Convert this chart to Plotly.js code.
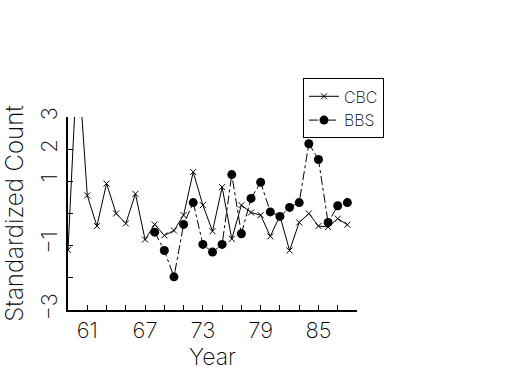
<!DOCTYPE html>
<html>
<head>
<meta charset="utf-8">
<script src="https://cdn.plot.ly/plotly-3.0.1.min.js"></script>
<style>html,body{margin:0;padding:0;background:#fff}#chart{width:525px;height:375px}</style>
</head>
<body>
<div id="chart"></div>
<script>
const cbcYears = [59,60,61,62,63,64,65,66,67,68,69,70,71,72,73,74,75,76,77,78,79,80,81,82,83,84,85,86,87,88];
const cbcValues = [-1.13,5.0,0.56,-0.39,0.93,0.0,-0.31,0.61,-0.81,-0.34,-0.68,-0.53,-0.05,1.29,0.26,-0.55,0.82,-0.79,0.26,0.03,-0.05,-0.71,-0.07,-1.15,-0.28,0.0,-0.39,-0.42,-0.16,-0.35];
const bbsYears = [68,69,70,71,72,73,74,75,76,77,78,79,80,81,82,83,84,85,86,87,88];
const bbsValues = [-0.58,-1.15,-1.97,-0.34,0.34,-0.96,-1.20,-0.96,1.21,-0.63,0.47,0.97,0.05,-0.09,0.19,0.34,2.17,1.68,-0.28,0.24,0.34];
const xTickVals = [59,61,63,65,67,69,71,73,75,77,79,81,83,85,87,89];
const xTickText = ['','61','','','67','','','73','','','79','','','85','',''];
const yTickVals = [-3,-2,-1,0,1,2,3];
const yTickText = ['\u22123','','\u22121','','1','2','3'];

const fontFam = 'Inter, "DejaVu Sans", sans-serif';
const traces = [
  {x: cbcYears, y: cbcValues, name: 'CBC', mode: 'lines+markers', type: 'scatter',
   line: {color: '#000', width: 1}, marker: {symbol: 'x-thin-open', size: 6, color: '#000', line: {color: '#000', width: 1}}},
  {x: bbsYears, y: bbsValues, name: 'BBS', mode: 'lines+markers', type: 'scatter',
   line: {color: '#000', width: 1, dash: 'dashdot'}, marker: {symbol: 'circle', size: 9, color: '#000'}}
];
const layout = {
  width: 525, height: 375,
  margin: {l: 68, r: 168, t: 117, b: 65},
  paper_bgcolor: '#fff', plot_bgcolor: '#fff',
  font: {family: fontFam, color: '#000', size: 20, weight: 200},
  showlegend: true,
  legend: {x: 0.813, y: 1.2, xanchor: 'left', yanchor: 'top', bordercolor: '#000', borderwidth: 1,
           bgcolor: '#fff', font: {family: fontFam, size: 16, weight: 200}, itemwidth: 30, tracegroupgap: 0},
  xaxis: {range: [59, 89], tickmode: 'array', tickvals: xTickVals, ticktext: xTickText,
          ticks: 'inside', ticklen: 5, tickcolor: '#000', showgrid: false, zeroline: false,
          showline: true, linecolor: '#000', linewidth: 2, tickangle: 0,
          tickfont: {family: fontFam, size: 22, weight: 200},
          title: {text: 'Year', font: {family: fontFam, size: 23, weight: 200}, standoff: 6}},
  yaxis: {range: [-3, 3], tickmode: 'array', tickvals: yTickVals, ticktext: yTickText,
          ticks: 'inside', ticklen: 5, tickcolor: '#000', showgrid: false, zeroline: false,
          showline: true, linecolor: '#000', linewidth: 2, tickangle: -90,
          tickfont: {family: fontFam, size: 22, weight: 200},
          title: {text: 'Standardized Count', font: {family: fontFam, size: 24, weight: 200}, standoff: 6}}
};
Plotly.newPlot('chart', traces, layout, {displayModeBar: false, staticPlot: true});
</script>
</body>
</html>
